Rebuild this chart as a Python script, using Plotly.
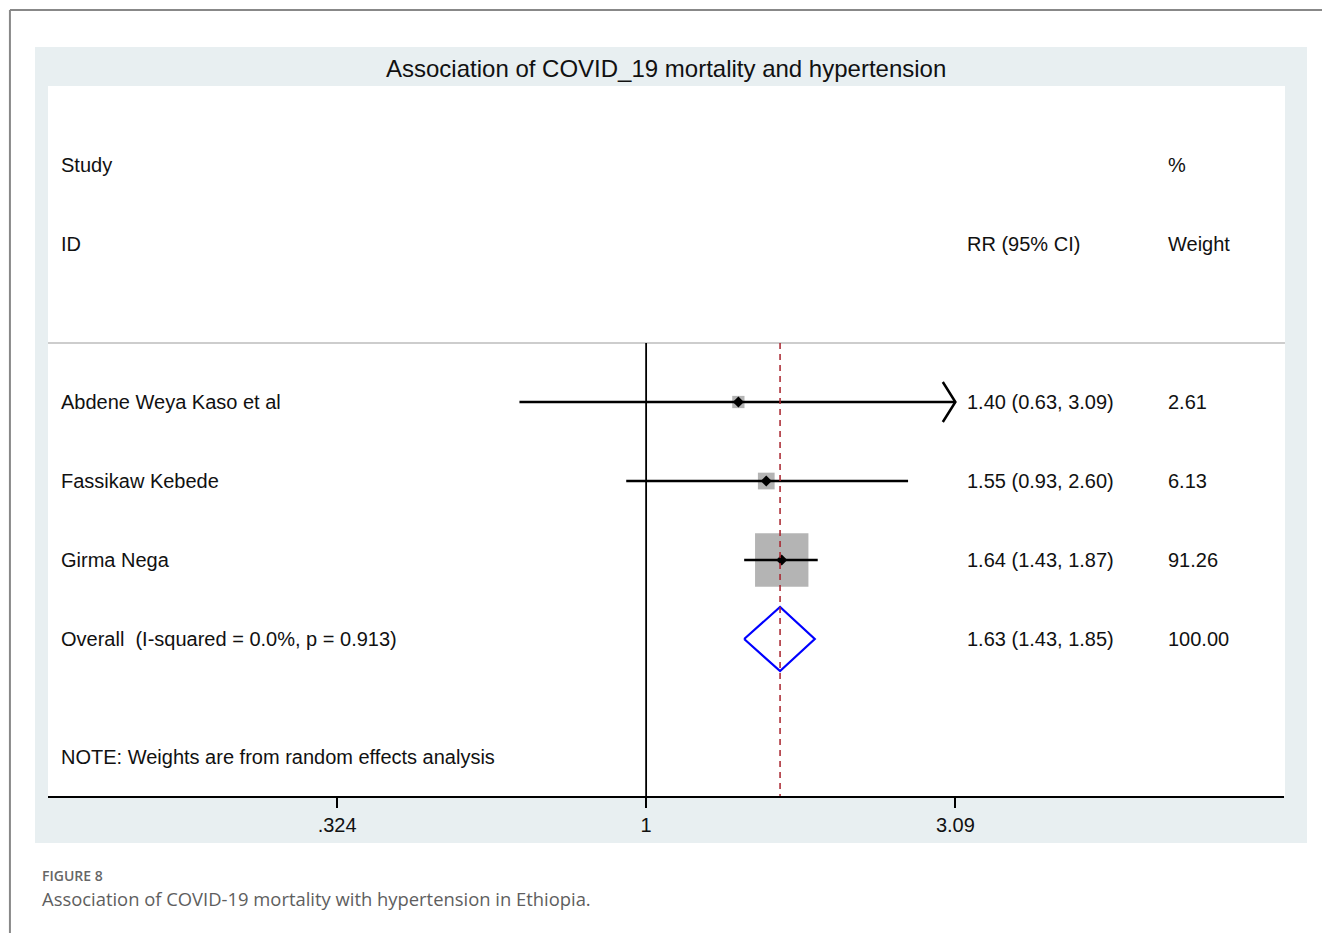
import math
import plotly.graph_objects as go

# ---- study data -------------------------------------------------------
studies = ["Abdene Weya Kaso et al", "Fassikaw Kebede", "Girma Nega"]
rr = [1.40, 1.55, 1.64]
ci_low = [0.63, 0.93, 1.43]
ci_high = [3.09, 2.60, 1.87]
weights = [2.61, 6.13, 91.26]

overall_label = "Overall  (I-squared = 0.0%, p = 0.913)"
overall_rr = 1.63
overall_low = 1.43
overall_high = 1.85
overall_weight = 100.00

note_text = "NOTE: Weights are from random effects analysis"
tick_vals = [0.324, 1, 3.09]
tick_text = [".324", "1", "3.09"]

# ---- layout constants -------------------------------------------------
W, H = 1322, 933
FONT = "Liberation Sans, Arial, sans-serif"
CAP_FONT = "Open Sans, Noto Sans, sans-serif"
TXT = "#111111"
rows = list(range(len(studies)))
overall_row = len(studies)
note_row = overall_row + 1.49
header_rows = (-3.0, -2.0)
sep_row = -0.747
y_range = [4.987, -4.0]
x_range = [-0.9475, 1.0105]
col_lab = 0.0089
col_rr = 0.7416
col_w = 0.9046
box_min, box_k = 3.9, 5.18   # box side = box_min + box_k * sqrt(weight)
diamond_half = 0.405

fig = go.Figure()

# weight boxes
fig.add_trace(go.Scatter(
    x=rr, y=rows, mode="markers",
    marker=dict(symbol="square", size=[box_min + box_k * math.sqrt(w) for w in weights],
                color="#b4b4b4", opacity=1, line=dict(width=0)),
    hoverinfo="skip", showlegend=False))

# confidence intervals
cx, cy = [], []
for r, lo, hi in zip(rows, ci_low, ci_high):
    cx += [lo, hi, None]
    cy += [r, r, None]
fig.add_trace(go.Scatter(x=cx, y=cy, mode="lines",
                         line=dict(color="black", width=2.5),
                         hoverinfo="skip", showlegend=False))

# open arrowheads where the interval reaches the axis limit
ax_, ay_ = [], []
for r, hi in zip(rows, ci_high):
    if hi >= max(tick_vals):
        ax_ += [hi / 1.047, hi, hi / 1.047, None]
        ay_ += [r - 0.253, r, r + 0.253, None]
fig.add_trace(go.Scatter(x=ax_, y=ay_, mode="lines",
                         line=dict(color="black", width=2.5),
                         hoverinfo="skip", showlegend=False))

# point estimates
fig.add_trace(go.Scatter(
    x=rr, y=rows, mode="markers",
    marker=dict(symbol="diamond", size=8.5, color="black", opacity=1),
    hoverinfo="skip", showlegend=False))

# pooled estimate diamond
fig.add_trace(go.Scatter(
    x=[overall_low, overall_rr, overall_high, overall_rr, overall_low],
    y=[overall_row, overall_row - diamond_half, overall_row,
       overall_row + diamond_half, overall_row],
    mode="lines", line=dict(color="#0000ff", width=2.2),
    hoverinfo="skip", showlegend=False))

shapes = [
    # outer page frame
    dict(type="line", xref="paper", yref="paper", x0=-0.0308, x1=1.05,
         y0=1.107, y1=1.107, line=dict(color="#888888", width=2), layer="below"),
    dict(type="line", xref="paper", yref="paper", x0=-0.0308, x1=-0.0308,
         y0=1.107, y1=-0.25, line=dict(color="#888888", width=2), layer="below"),
    # graph region
    dict(type="rect", xref="paper", yref="paper", x0=-0.0105, x1=1.0186,
         y0=-0.0662, y1=1.0549, fillcolor="#e8eff1", line=dict(width=0),
         layer="below"),
    dict(type="rect", xref="paper", yref="paper", x0=0, x1=1.0008,
         y0=0, y1=1, fillcolor="white", line=dict(width=0), layer="below"),
    # header separator
    dict(type="line", xref="paper", yref="y", x0=0, x1=1.0008,
         y0=sep_row, y1=sep_row, line=dict(color="#bdbdbd", width=1.5)),
    # null line
    dict(type="line", xref="x", yref="y", x0=1, x1=1, y0=sep_row, y1=y_range[0],
         line=dict(color="black", width=1.8)),
    # pooled estimate line
    dict(type="line", xref="x", yref="y", x0=overall_rr, x1=overall_rr,
         y0=sep_row, y1=y_range[0],
         line=dict(color="#a8222c", width=1.5, dash="6px,5px")),
]

ann = []


def text(x, y, s, yref="y", size=20, **kw):
    ann.append(dict(x=x, y=y, xref="paper", yref=yref, text=s, showarrow=False,
                    xanchor=kw.pop("xanchor", "left"), yanchor="middle",
                    font=dict(family=kw.pop("family", FONT), size=size,
                              color=kw.pop("color", TXT),
                              weight=kw.pop("weight", "normal")), **kw))


# headers
text(col_lab, header_rows[0], "Study")
text(col_lab, header_rows[1], "ID")
text(col_rr, header_rows[1], "RR (95% CI)")
text(col_w, header_rows[0], "%")
text(col_w, header_rows[1], "Weight")

# study rows
for r, name, e, lo, hi, w in zip(rows, studies, rr, ci_low, ci_high, weights):
    text(col_lab, r, name)
    text(col_rr, r, f"{e:.2f} ({lo:.2f}, {hi:.2f})")
    text(col_w, r, f"{w:.2f}")

text(col_lab, overall_row, overall_label)
text(col_rr, overall_row, f"{overall_rr:.2f} ({overall_low:.2f}, {overall_high:.2f})")
text(col_w, overall_row, f"{overall_weight:.2f}")
text(col_lab, note_row, note_text)

# title inside the graph region
text(0.5, 1.024, "Association of COVID_19 mortality and hypertension",
     yref="paper", size=24, xanchor="center")

# figure caption
text(-0.0065, -0.1125, "FIGURE 8", yref="paper", size=14,
     family=CAP_FONT, color="#666666", weight=600)
text(-0.0065, -0.145, "Association of COVID-19 mortality with hypertension in Ethiopia.",
     yref="paper", size=18.4, family=CAP_FONT, color="#5e5e5e")

fig.update_layout(
    width=W, height=H,
    margin=dict(l=48, r=38, t=86, b=137, pad=0),
    paper_bgcolor="white", plot_bgcolor="white",
    shapes=shapes, annotations=ann, showlegend=False,
    xaxis=dict(type="log", range=x_range, tickvals=tick_vals, ticktext=tick_text,
               showgrid=False, zeroline=False, showline=True, linecolor="black",
               linewidth=2, ticks="outside", ticklen=10, tickwidth=1.5,
               tickcolor="black", tickfont=dict(family=FONT, size=20, color=TXT),
               fixedrange=True),
    yaxis=dict(range=y_range, visible=False, showgrid=False, zeroline=False,
               fixedrange=True),
)

fig.write_html("out.html")
